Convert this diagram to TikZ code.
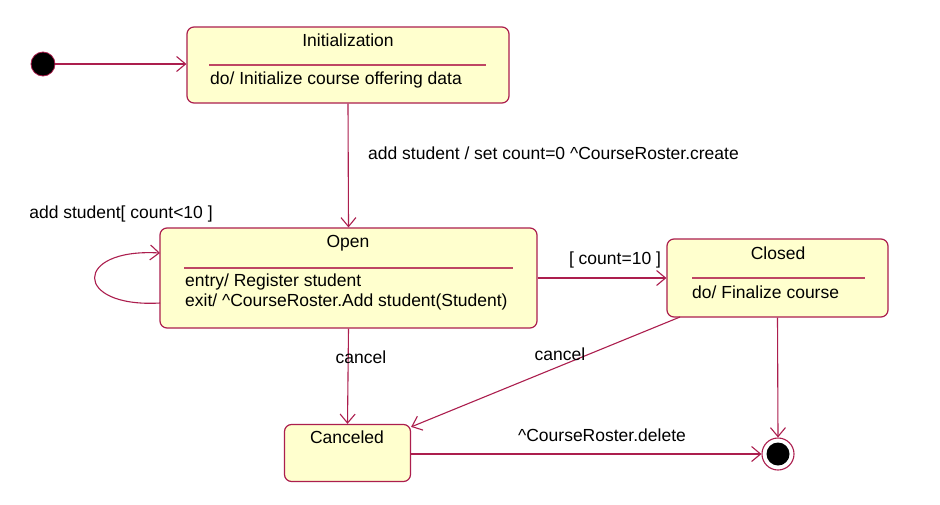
\documentclass[tikz,border=0pt]{standalone}
\usepackage{fontspec}
\setmainfont{Liberation Sans}
\usetikzlibrary{arrows.meta}
\definecolor{edge}{RGB}{172,30,78}
\definecolor{sep}{RGB}{190,70,100}
\definecolor{statefill}{RGB}{255,255,206}
\tikzset{
  state/.style={draw=edge, fill=statefill, line width=1.2pt, rounded corners=7pt, inner sep=0pt},
  arr/.style={draw=edge, line width=1.1pt, -{Straight Barb[length=9pt,width=15pt,line width=1.1pt]}},
  septr/.style={draw=sep, line width=1.1pt},
  txt/.style={font=\fontsize{17.5}{20}\selectfont, inner sep=0pt, text=black},
  lbl/.style={txt, fill=none},
}
\begin{document}
\begin{tikzpicture}[x=1pt,y=-1pt]
\useasboundingbox (0,0) rectangle (940,504);
\fill[white] (0,0) rectangle (940,504);

% initial state
\node[circle, fill=black, draw=edge, line width=0.8pt, minimum size=24pt, inner sep=0pt] (start) at (43,64) {};

% Initialization
\node[state, minimum width=322pt, minimum height=76pt] (init) at (348,65) {};
\node[txt] (initT) at (348,40) {Initialization};
\draw[septr] (209,65) -- (486,65);
\node[txt, anchor=west] (initD) at (210,80) {do/ Initialize course offering data};

% Open
\node[state, minimum width=377pt, minimum height=100pt] (open) at (348.5,278) {};
\node[txt] (openT) at (348,243) {Open};
\draw[septr] (184,268) -- (513,268);
\node[txt, anchor=west] (openE) at (185,282) {entry/ Register student};
\node[txt, anchor=west] (openX) at (185,302) {exit/ \textasciicircum CourseRoster.Add student(Student)};

% Closed
\node[state, minimum width=221pt, minimum height=78pt] (closed) at (777.5,278) {};
\node[txt] (closedT) at (778,253) {Closed};
\draw[septr] (692,278) -- (865,278);
\node[txt, anchor=west] (closedD) at (692,292) {do/ Finalize course};

% Canceled
\node[state, minimum width=126pt, minimum height=57pt] (canc) at (347.5,453) {};
\node[txt] (cancT) at (347,437) {Canceled};

% final state
\node[circle, draw=edge, fill=white, line width=1.1pt, minimum size=32pt, inner sep=0pt] (final) at (778,454) {};
\node[circle, fill=black, minimum size=23pt, inner sep=0pt] (finalin) at (778,454) {};

% transitions
\draw[arr] (start.east) -- (init.west |- start.east);
\draw[arr] (init.south) -- (open.north);
\node[lbl, anchor=west] (l1) at (368,153) {add student / set count=0 \textasciicircum CourseRoster.create};

\coordinate (loopA) at (160,303);
\coordinate (loopB) at (160,253);
\draw[arr] (loopA) .. controls (73,308) and (73,248) .. (loopB);
\node[lbl] (l2) at (121,214) {add student[ count<10 ]};

\draw[arr] (open.east) -- (closed.west |- open.east);
\node[lbl] (l3) at (615,260) {[ count=10 ]};

\draw[arr] (open.south) -- (canc.north);
\node[lbl] (l4) at (361,357) {cancel};

\coordinate (cs) at (680,317);
\draw[arr] (cs) -- ([yshift=-3pt]canc.north east);
\node[lbl] (l5) at (560,354) {cancel};

\draw[arr] (closed.south) -- (final.north);

\draw[arr] (canc.east |- final.center) -- (final.west);
\node[lbl] (l6) at (602,435) {\textasciicircum CourseRoster.delete};
\end{tikzpicture}
\end{document}
